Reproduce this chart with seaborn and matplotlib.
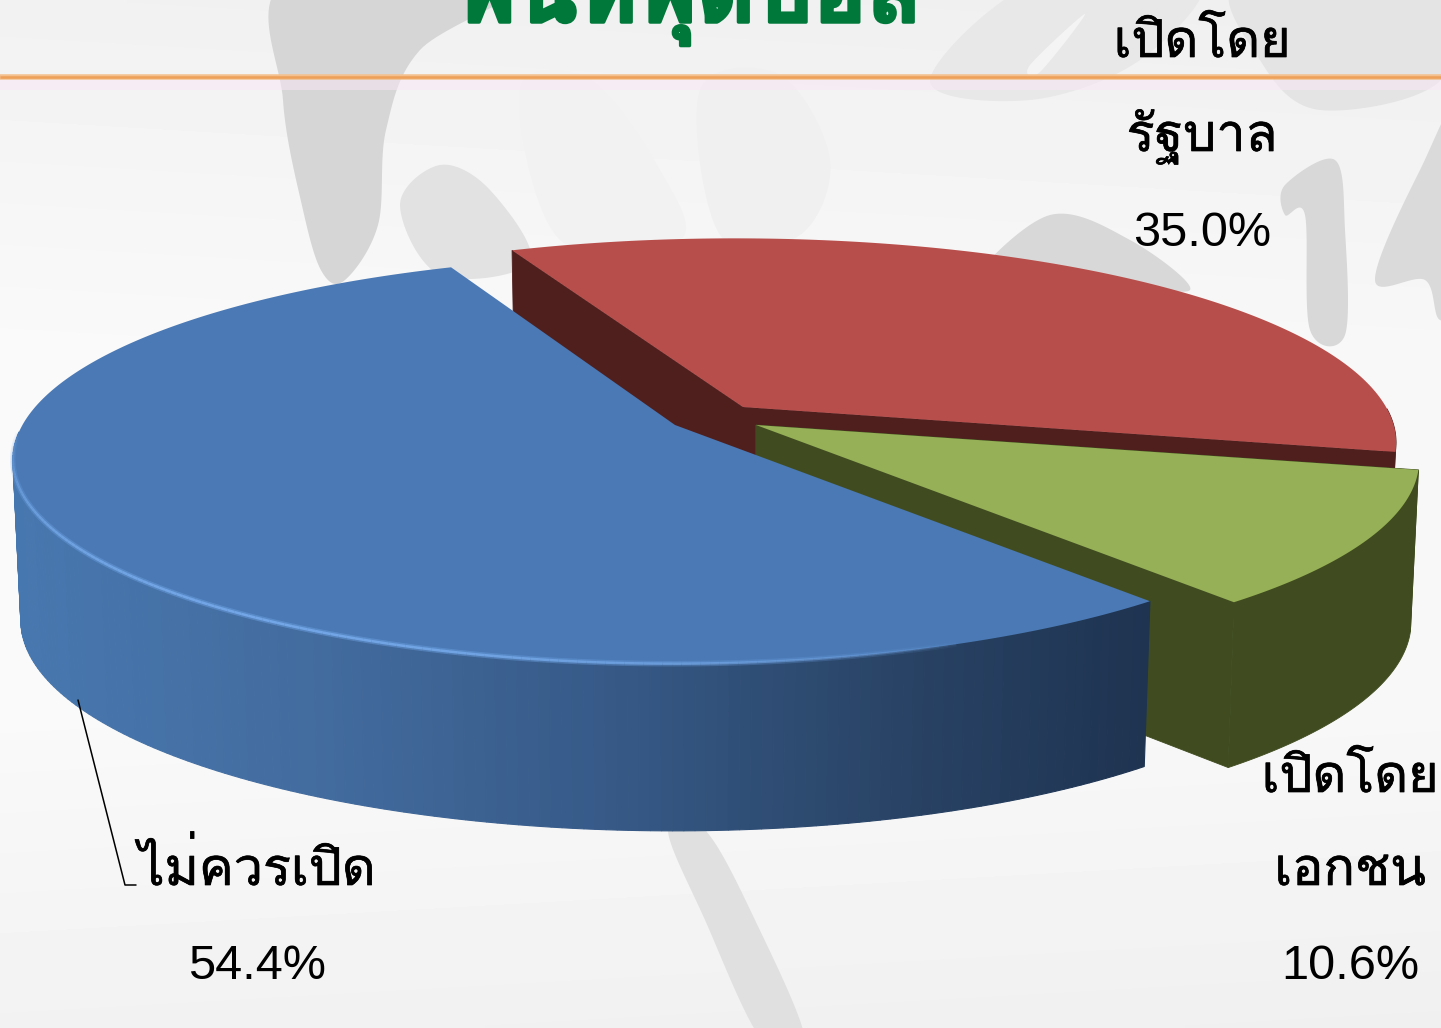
import matplotlib
matplotlib.use("Agg")
import matplotlib.pyplot as plt
import matplotlib.patheffects as pe
import numpy as np
import seaborn as sns
from matplotlib.collections import LineCollection

# data
categories = ["ไม่ควรเปิด", "เปิดโดยเอกชน", "เปิดโดยรัฐบาล"]
label_lines = [["ไม่ควรเปิด"], ["เปิดโดย", "เอกชน"], ["เปิดโดย", "รัฐบาล"]]
values = [54.4, 10.6, 35.0]
title = "พื้นที่ฟุตบอล"

# look of the 3d pie (pixels of the slide)
START = 113.4
A, B, K = 651.0, 198.0, 0.174
DEPTH = 160.0
apexes = [(675, 425), (756, 425), (743, 407)]
rim_shift = [(-1, -1), (2, 0), (-8, 0)]
tops = ["#4A79B5", "#95B056", "#B84E4B"]
walls = [None, "#404C20", "#4F1F1E"]
label_x = [257, 1350, 1202]
label_base = [[885], [792, 885], [57, 151]]
pct_base = [979, 979, 246]

sns.set_theme(style="white")
fig = plt.figure(figsize=(14.41, 10.28), dpi=100)
ax = fig.add_axes([0, 0, 1, 1])
ax.set_xlim(0, 1441)
ax.set_ylim(1028, 0)
ax.axis("off")


def smooth(pts, n=24):
    pts = np.array(pts, dtype=float)
    out = []
    m = len(pts)
    for i in range(m):
        p0, p1, p2, p3 = pts[i - 1], pts[i], pts[(i + 1) % m], pts[(i + 2) % m]
        for t in np.linspace(0, 1, n, endpoint=False):
            out.append(0.5 * (2 * p1 + (p2 - p0) * t + (2 * p0 - 5 * p1 + 4 * p2 - p3) * t ** 2
                              + (3 * p1 - p0 - 3 * p2 + p3) * t ** 3))
    return np.array(out)


def blob(pts, color, z=1):
    s = smooth(pts)
    ax.fill(s[:, 0], s[:, 1], color=color, lw=0, zorder=z)


# background gradient
gx, gy = np.meshgrid(np.linspace(0, 1, 200), np.linspace(0, 1, 200))
bg = 0.938 + 0.032 * np.clip(gy * 3, 0, 1) + 0.008 * (1 - gx) - 0.03 * np.clip(gy - 0.7, 0, 1) / 0.3
ax.imshow(bg, extent=(0, 1441, 1028, 0), cmap="gray", vmin=0, vmax=1, aspect="auto",
          interpolation="bilinear", zorder=0)

# faint swooshes of the slide template
blob([(288, -20), (283, 100), (303, 210), (322, 272), (345, 280), (378, 225), (386, 130), (420, 50), (520, -20)], "#D6D6D6")
blob([(400, 205), (440, 165), (490, 190), (530, 262), (440, 275)], "#E2E2E2")
blob([(520, 90), (590, 80), (660, 170), (680, 240), (560, 240)], "#F2F2F2")
blob([(700, 90), (780, 75), (830, 160), (800, 235), (720, 235)], "#F0F0F0")
blob([(930, 80), (1040, -20), (1200, -20), (1140, 60), (1030, 100)], "#E8E8E8")
blob([(1240, -20), (1441, -20), (1441, 80), (1320, 110), (1260, 60)], "#E4E4E4")
blob([(1030, 65), (1085, 14), (1040, 72)], "#F4F4F4")
# 0, 1 and 4 of the year
blob([(975, 280), (1050, 215), (1130, 240), (1190, 290), (1100, 280), (1040, 275)], "#D8D8D8")
blob([(1285, 185), (1335, 160), (1345, 230), (1345, 335), (1310, 330), (1305, 215), (1285, 215)], "#D8D8D8")
blob([(1375, 280), (1420, 170), (1470, 90), (1470, 300), (1440, 320), (1425, 280)], "#DADADA")
blob([(668, 830), (705, 920), (762, 1040), (805, 1040), (755, 920), (705, 830)], "#E0E0E0")

# title runs off the top of the slide
ax.text(689, 22, title, ha="center", va="baseline", fontsize=65, color="#00783A",
        family=["Loma", "DejaVu Sans"], fontweight="bold", zorder=3,
        path_effects=[pe.withStroke(linewidth=2.5, foreground="#00783A")])

# orange rule
ax.fill_between([0, 1441], 80, 90, color="#F8E8F4", alpha=0.5, lw=0, zorder=2)
ax.plot([0, 1441], [77, 77], color="#F3C08E", lw=4, solid_capstyle="butt", zorder=3)
ax.plot([0, 1441], [77, 77], color="#EE9F58", lw=1.8, solid_capstyle="butt", zorder=3)


def rim(theta, apex, shift):
    t = np.radians(theta)
    u, v = np.cos(t), np.sin(t)
    w = 1 + K * v
    return apex[0] + shift[0] + A * u / w, apex[1] + shift[1] - B * v / w


def down(x, y, apex):
    return apex[0] + (np.asarray(x) - apex[0]) * 0.988, apex[1] + (np.asarray(y) - apex[1]) * 1.03 + DEPTH


# angles come from the values, blue then green then red
ends = START + np.cumsum(values) * 3.6
starts = np.r_[START, ends[:-1]]

for i in [2, 1, 0]:
    apex = apexes[i]
    th = np.linspace(starts[i], ends[i], 240)
    x, y = rim(th, apex, rim_shift[i])
    xb, yb = down(x, y, apex)
    axb, ayb = down(apex[0], apex[1], apex)
    z = 5 + (2 - i)
    if walls[i] is not None:
        # two cut faces and the front of the outside
        ax.fill([apex[0], x[0], xb[0], axb], [apex[1], y[0], yb[0], ayb], color=walls[i], lw=0.6, zorder=z)
        ax.fill([apex[0], x[-1], xb[-1], axb], [apex[1], y[-1], yb[-1], ayb], color=walls[i], lw=0.6, zorder=z)
        front = np.sin(np.radians(th)) < 0
        ax.fill(np.r_[x[front], xb[front][::-1]], np.r_[y[front], yb[front][::-1]], color=walls[i], lw=0.6, zorder=z)
    else:
        # shaded outside, left to right
        keep = th > 182
        xs, ys, xbs, ybs = x[keep], y[keep], xb[keep], yb[keep]
        shades = sns.blend_palette(["#4777AF", "#436C9F", "#375B89", "#2A4568", "#1E3350"], 120)
        for j in range(len(xs) - 1):
            c = shades[int(np.clip((xs[j] - 14) / (1147 - 14), 0, 1) * 119)]
            ax.fill([xs[j], xs[j + 1], xbs[j + 1], xbs[j]], [ys[j], ys[j + 1], ybs[j + 1], ybs[j]],
                    color=c, lw=0.8, zorder=z)
    ax.fill(np.r_[apex[0], x], np.r_[apex[1], y], color=tops[i], lw=0, zorder=z + 0.5)

# light rim along the front of the blue slice
th = np.linspace(182, 292, 160)
x, y = rim(th, apexes[0], rim_shift[0])
segs = np.stack([np.c_[x[:-1], y[:-1]], np.c_[x[1:], y[1:]]], axis=1)
fade = np.sin(np.linspace(0, np.pi, len(segs))) ** 0.6
ax.add_collection(LineCollection(segs, colors=[(0.42, 0.62, 0.87, a * 0.5) for a in fade], linewidths=4, zorder=8))
ax.add_collection(LineCollection(segs, colors=[(0.45, 0.65, 0.90, a) for a in fade], linewidths=1.8, zorder=8))

# leader line of the blue slice
ax.plot([78, 125, 136], [700, 885, 885], color="black", lw=1.1, zorder=9)

for i in range(3):
    for line, base in zip(label_lines[i], label_base[i]):
        ax.text(label_x[i], base, line, ha="center", va="baseline", fontsize=37.5, color="black",
                family=["Loma", "DejaVu Sans"], zorder=10,
                path_effects=[pe.withStroke(linewidth=0.5, foreground="black")])
    ax.text(label_x[i], pct_base[i], f"{values[i]:.1f}%", ha="center", va="baseline", fontsize=35,
            color="black", family=["Liberation Sans"], zorder=10)

fig.savefig("out.png", dpi=100)
